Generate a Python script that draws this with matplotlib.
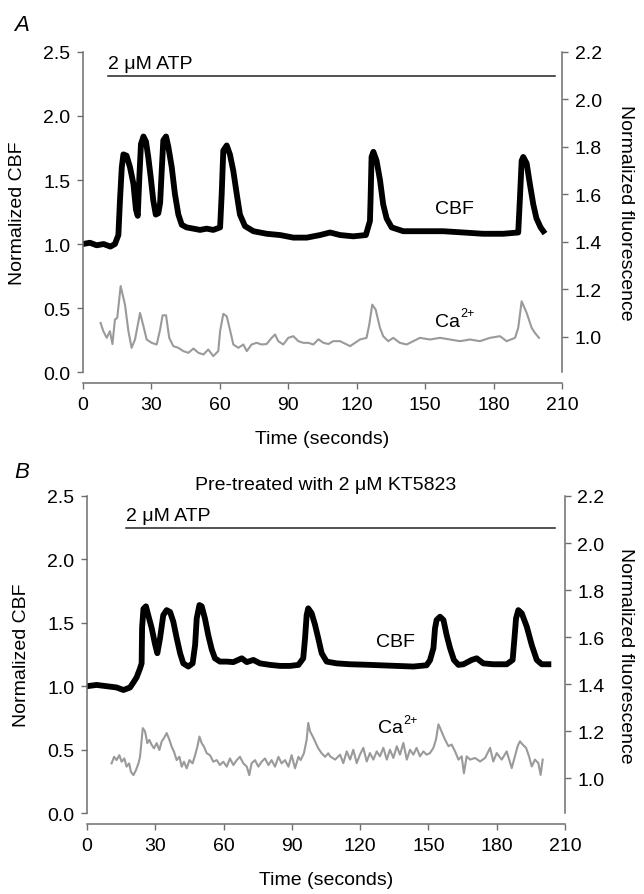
import matplotlib
matplotlib.use("Agg")
import matplotlib.pyplot as plt

plt.rcParams["font.family"] = ["Liberation Sans", "DejaVu Sans"]

# Panel A - CBF (left axis), time in seconds
cbf_a_time = [0, 3, 6, 9, 12, 14, 15.5, 16.2, 17.0, 17.7, 19.1, 20.6, 22.1, 23.2, 24.0, 24.7,
              25.4, 26.5, 27.6, 28.6, 29.7, 30.8, 31.9, 33.0, 33.8, 34.5, 35.2, 36.4, 37.4, 38.9,
              40.3, 41.8, 43.3, 45.4, 48.4, 51.3, 54.2, 57.1, 60.1, 60.8, 61.5, 63.0, 64.4, 65.9,
              67.4, 68.8, 71.0, 74.7, 80.5, 86.4, 92.2, 98.1, 103.9, 108.3, 112.7, 118.5, 124.0,
              125.8, 126.1, 126.5, 127.3, 128.7, 130.2, 131.6, 133.1, 135.3, 140.4, 149.2, 157.9,
              166.7, 175.4, 184.2, 190.8, 191.5, 192.3, 193.0, 194.5, 195.9, 197.4, 198.8, 200.6, 201.8]
cbf_a = [1.0, 1.01, 0.99, 1.0, 0.98, 1.0, 1.07, 1.34, 1.60, 1.70, 1.69, 1.60, 1.47, 1.27, 1.22, 1.52,
         1.78, 1.84, 1.80, 1.68, 1.52, 1.34, 1.23, 1.24, 1.32, 1.57, 1.81, 1.84, 1.76, 1.60,
         1.39, 1.23, 1.15, 1.13, 1.12, 1.11, 1.12, 1.11, 1.13, 1.39, 1.73, 1.77, 1.70, 1.57,
         1.39, 1.23, 1.14, 1.10, 1.08, 1.07, 1.05, 1.05, 1.07, 1.09, 1.07, 1.06, 1.07,
         1.18, 1.37, 1.68, 1.72, 1.65, 1.50, 1.31, 1.20, 1.13, 1.10, 1.10, 1.10,
         1.09, 1.08, 1.08, 1.09, 1.34, 1.65, 1.68, 1.63, 1.47, 1.31, 1.20, 1.13, 1.10]

# Panel A - Ca2+ fluorescence (right axis)
ca_a_time = [7.7, 8.9, 10.4, 11.8, 12.9, 14.0, 15.0, 16.5, 18.4, 19.9, 21.3, 22.8, 25.0, 26.5, 27.9,
             30.1, 32.3, 33.8, 34.9, 36.4, 37.8, 39.6, 41.8, 44.0, 46.2, 48.4, 50.6, 52.8, 54.9, 57.1,
             59.3, 60.1, 61.5, 63.0, 64.4, 65.9, 68.1, 70.3, 71.8, 73.9, 76.1, 78.3, 80.5, 82.7, 84.2,
             85.6, 87.8, 90.0, 92.2, 94.4, 96.6, 98.8, 101.0, 103.2, 105.4, 107.6, 109.7, 112.7, 117.1,
             121.4, 124.3, 125.5, 126.8, 128.3, 130.2, 131.6, 133.8, 136.0, 138.9, 141.9, 144.8, 147.7,
             152.1, 156.5, 160.9, 165.3, 169.6, 174.0, 178.4, 182.8, 185.7, 189.4, 190.8, 192.3, 194.5,
             196.7, 198.1, 199.9]
ca_a = [1.059, 1.024, 0.996, 1.024, 0.97, 1.073, 1.08, 1.214, 1.136, 1.024, 0.954, 0.989, 1.101, 1.045, 0.989,
        0.975, 0.968, 1.031, 1.091, 1.091, 0.996, 0.961, 0.954, 0.94, 0.933, 0.951, 0.933, 0.926, 0.947, 0.919,
        0.94, 1.024, 1.097, 1.087, 1.031, 0.968, 0.954, 0.968, 0.94, 0.968, 0.975, 0.968, 0.97, 0.996, 1.01,
        0.982, 0.968, 0.996, 1.003, 0.982, 0.975, 0.975, 0.968, 0.99, 0.975, 0.97, 0.982, 0.982, 0.961,
        0.989, 0.996, 1.052, 1.136, 1.115, 1.038, 1.003, 0.982, 0.996, 0.975, 0.968, 0.982, 0.996,
        0.989, 0.996, 0.989, 0.982, 0.989, 0.982, 0.996, 1.003, 0.982, 0.996, 1.038, 1.150, 1.101,
        1.038, 1.017, 0.996]

# Panel B - CBF
cbf_b_time = [0, 4.2, 8.6, 13.0, 16.0, 18.9, 20.4, 21.8, 23.3, 24.0, 24.2, 24.8, 25.9, 26.9, 28.4,
              29.9, 30.9, 32.1, 33.5, 35.0, 36.5, 37.9, 39.4, 40.9, 42.3, 44.5, 46.4, 47.5, 48.2, 49.4,
              50.4, 51.8, 53.3, 54.8, 56.2, 58.4, 61.4, 64.3, 68.0, 70.2, 73.1, 76.0, 80.4, 84.8, 89.2,
              92.9, 95.0, 95.8, 96.5, 97.2, 98.7, 100.2, 101.6, 103.1, 105.3, 109.7, 115.6, 121.4, 136.1,
              143.4, 149.2, 150.7, 152.2, 152.9, 153.6, 155.1, 156.6, 158.0, 159.5, 161.2, 163.2, 165.4,
              169.0, 171.2, 174.1, 178.5, 184.4, 187.0, 187.8, 188.5, 189.5, 191.0, 193.2, 195.4, 197.6,
              199.8, 202.7]
cbf_b = [1.0, 1.01, 1.0, 0.99, 0.97, 0.99, 1.03, 1.07, 1.14, 1.18, 1.46, 1.61, 1.63, 1.56, 1.46,
         1.33, 1.26, 1.38, 1.56, 1.60, 1.585, 1.51, 1.38, 1.26, 1.18, 1.155, 1.18, 1.325, 1.535, 1.64,
         1.63, 1.535, 1.40, 1.29, 1.22, 1.194, 1.194, 1.19, 1.22, 1.19, 1.207, 1.18, 1.168, 1.16, 1.16,
         1.168, 1.22, 1.378, 1.56, 1.614, 1.575, 1.483, 1.378, 1.26, 1.194, 1.18, 1.173, 1.17, 1.16,
         1.155, 1.165, 1.205, 1.30, 1.457, 1.522, 1.548, 1.522, 1.404, 1.30, 1.207, 1.168, 1.173,
         1.207, 1.22, 1.18, 1.173, 1.173, 1.207, 1.378, 1.535, 1.60, 1.575, 1.47, 1.325, 1.207,
         1.173, 1.173]

# Panel B - Ca2+
ca_b_time = [10.8, 11.9, 13.0, 14.2, 15.2, 16.4, 17.4, 18.5, 19.3, 20.4,
             21.5, 22.6, 23.3, 24.0, 24.5, 25.5, 26.5, 27.4, 28.4, 29.4,
             30.6, 31.8, 32.8, 33.8, 35.0, 36.2, 37.2, 38.2, 39.4, 40.6,
             41.6, 42.6, 43.8, 45.0, 46.4, 47.5, 48.5, 49.4, 50.4, 51.4,
             52.6, 54.0, 55.5, 57.0, 58.4, 59.9, 61.4, 62.8, 64.3, 65.8,
             67.2, 68.7, 70.2, 71.3, 72.3, 73.8, 75.3, 76.7, 78.2, 79.7,
             81.1, 82.6, 84.1, 85.5, 87.0, 88.5, 89.9, 91.4, 92.9, 93.9,
             95.3, 96.5, 97.2, 98.0, 99.2, 100.2, 101.6, 103.1, 104.6, 106.0,
             106.8, 109.0, 111.2, 112.6, 114.1, 115.6, 117.0, 118.5, 119.9, 121.4,
             122.9, 124.3, 125.8, 127.3, 128.7, 130.2, 131.7, 133.1, 134.6, 136.1,
             137.5, 139.0, 140.5, 141.9, 143.4, 144.8, 146.3, 147.8, 149.2, 150.7,
             152.2, 153.3, 154.4, 155.1, 156.3, 157.3, 158.8, 160.2, 161.7, 163.2,
             164.6, 165.6, 166.8, 168.3, 170.5, 172.7, 174.9, 177.1, 178.5, 180.0,
             182.2, 184.4, 186.6, 188.0, 189.2, 190.2, 191.4, 192.9, 194.2, 195.4,
             196.8, 198.3, 199.3, 200.2]
ca_b = [1.063, 1.091, 1.077, 1.098, 1.07, 1.084, 1.049, 1.063, 1.027, 1.013,
        1.034, 1.063, 1.091, 1.163, 1.213, 1.199, 1.149, 1.163, 1.142, 1.127,
        1.149, 1.12, 1.156, 1.17, 1.192, 1.163, 1.134, 1.113, 1.077, 1.091,
        1.049, 1.07, 1.042, 1.077, 1.063, 1.098, 1.134, 1.177, 1.149, 1.134,
        1.106, 1.098, 1.07, 1.077, 1.056, 1.07, 1.049, 1.084, 1.056, 1.077,
        1.091, 1.063, 1.049, 1.013, 1.063, 1.077, 1.049, 1.07, 1.084, 1.056,
        1.077, 1.049, 1.091, 1.063, 1.077, 1.049, 1.098, 1.042, 1.091, 1.077,
        1.106, 1.163, 1.235, 1.199, 1.177, 1.156, 1.127, 1.106, 1.091, 1.106,
        1.093, 1.079, 1.1, 1.064, 1.114, 1.079, 1.121, 1.064, 1.1, 1.129,
        1.071, 1.107, 1.079, 1.114, 1.093, 1.129, 1.079, 1.121, 1.086, 1.136,
        1.1, 1.15, 1.079, 1.121, 1.1, 1.129, 1.093, 1.114, 1.1, 1.107,
        1.129, 1.164, 1.229, 1.214, 1.186, 1.164, 1.136, 1.143, 1.114, 1.079,
        1.093, 1.021, 1.093, 1.079, 1.086, 1.071, 1.086, 1.129, 1.071, 1.107,
        1.079, 1.114, 1.043, 1.093, 1.136, 1.157, 1.143, 1.129, 1.093, 1.05,
        1.079, 1.064, 1.014, 1.079]

x_ticks = [0, 30, 60, 90, 120, 150, 180, 210]
left_ticks = [0.0, 0.5, 1.0, 1.5, 2.0, 2.5]
right_ticks = [1.0, 1.2, 1.4, 1.6, 1.8, 2.0, 2.2]

SPINE = "#6e6e6e"
FS = 14


def style_axes(ax, ax2):
    ax.set_xlim(0, 210)
    ax.set_ylim(0, 2.5)
    ax2.set_ylim(0.852, 2.2)
    ax.set_xticks(x_ticks)
    ax.set_yticks(left_ticks)
    ax.set_yticklabels(["%.1f" % v for v in left_ticks])
    ax2.set_yticks(right_ticks)
    ax2.set_yticklabels(["%.1f" % v for v in right_ticks])
    for s in ["top", "right"]:
        ax.spines[s].set_visible(False)
    for s in ["top", "left", "bottom"]:
        ax2.spines[s].set_visible(False)
    ax.spines["bottom"].set_position(("outward", 8))
    for sp in [ax.spines["left"], ax.spines["bottom"], ax2.spines["right"]]:
        sp.set_color(SPINE)
        sp.set_linewidth(1.1)
    for a in [ax, ax2]:
        a.tick_params(direction="out", length=4, width=1.0, color=SPINE,
                      labelsize=FS, pad=5)
    ax.set_xlabel("Time (seconds)", fontsize=FS)
    ax.xaxis.set_label_coords(0.5, -0.182)
    ax.set_ylabel("Normalized CBF", fontsize=FS)
    ax.yaxis.set_label_coords(-0.12, 0.5)


def draw_panel(ax, cbf_t, cbf, ca_t, ca, atp_start, atp_end, atp_y, cbf_lab, ca_lab):
    ax2 = ax.twinx()
    ax.plot(cbf_t, cbf, color="black", lw=4.2, solid_joinstyle="round")
    ax2.plot(ca_t, ca, color="#9a9a9a", lw=1.5)
    ax.plot([atp_start, atp_end], [atp_y, atp_y], color="#222222", lw=1.1)
    ax.text(atp_start, atp_y + 0.1, "2 μM ATP", fontsize=FS, va="center", ha="left")
    ax.text(cbf_lab[0], cbf_lab[1], "CBF", fontsize=FS, ha="center", va="center")
    t = ax2.text(ca_lab[0], ca_lab[1], "Ca", fontsize=FS, ha="center", va="center")
    ax2.annotate("2+", xy=(1.0, 0.62), xycoords=t, fontsize=9, ha="left", va="bottom")
    style_axes(ax, ax2)
    return ax2


def main():
    fig = plt.figure(figsize=(6.44, 8.95), dpi=100)
    ax_a = fig.add_axes([0.1289, 0.5832, 0.7438, 0.3576])
    ax_b = fig.add_axes([0.1351, 0.0905, 0.7422, 0.3542])

    draw_panel(ax_a, cbf_a_time, cbf_a, ca_a_time, ca_a, 11, 207, 2.31,
               (163, 1.28), (160, 1.065))
    draw_panel(ax_b, cbf_b_time, cbf_b, ca_b_time, ca_b, 17, 205.5, 2.25,
               (135.5, 1.35), (133.5, 1.215))

    fig.text(0.033, 0.972, "A", fontsize=16, style="italic", ha="center", va="center")
    fig.text(0.033, 0.4726, "B", fontsize=16, style="italic", ha="center", va="center")
    fig.text(0.506, 0.4581, "Pre-treated with 2 μM KT5823", fontsize=FS,
             ha="center", va="center")
    fig.text(0.972, 0.762, "Normalized fluorescence", fontsize=FS, rotation=270,
             ha="center", va="center")
    fig.text(0.972, 0.2676, "Normalized fluorescence", fontsize=FS, rotation=270,
             ha="center", va="center")

    fig.savefig("out.png", dpi=100)


if __name__ == "__main__":
    main()
